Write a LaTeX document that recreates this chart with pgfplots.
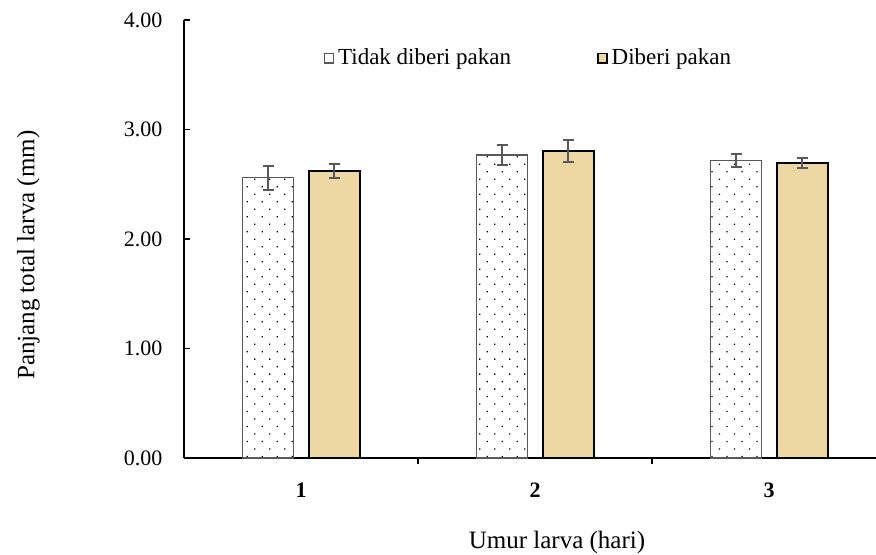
\documentclass[border=0pt]{standalone}
\usepackage{fontspec}
\setmainfont{Liberation Serif}
\usepackage{pgfplots}
\pgfplotsset{compat=1.18}
\usetikzlibrary{patterns.meta}
\definecolor{tanfill}{RGB}{237,216,163}
\definecolor{egray}{RGB}{89,89,89}
\begin{document}
\begin{tikzpicture}
\path[use as bounding box] (-92pt,-48pt) rectangle (346pt,229pt);
\begin{axis}[at={(0,0)}, anchor=south west, scale only axis,
  width=346pt, height=219pt,
  xmin=0.5, xmax=3.457, ymin=0, ymax=4,
  axis x line=bottom, axis y line=left,
  axis line style={-, line width=1pt, black},
  tick align=inside,
  ytick={0,1,2,3,4},
  yticklabels={0.00,1.00,2.00,3.00,4.00},
  yticklabel style={font=\fontsize{11}{13}\selectfont, xshift=-7.3pt},
  ytick style={line width=0.8pt, black},
  major tick length=3pt,
  xtick={1,2,3},
  xticklabels={1,2,3},
  xticklabel style={font=\bfseries\fontsize{11}{13}\selectfont, yshift=-5.8pt},
  major x tick style={draw=none},
  minor xtick={1.5,2.5},
  minor x tick style={line width=0.8pt, black},
  minor tick length=3pt,
  xlabel={Umur larva (hari)},
  ylabel={Panjang total larva (mm)},
  xlabel style={font=\fontsize{12.5}{15}\selectfont, at={(axis description cs:0.539,-0.194)}, anchor=center},
  ylabel style={font=\fontsize{12.5}{15}\selectfont, at={(axis description cs:-0.225,0.463)}, anchor=center},
  ybar, bar width=0.218,
  legend columns=2,
  legend style={draw=none, fill=none, at={(axis description cs:0.499,0.913)}, anchor=center,
    font=\fontsize{11.5}{14}\selectfont,
    /tikz/every even column/.append style={column sep=41pt}},
]
\addplot[bar shift=-0.141, draw=egray, line width=0.75pt,
  pattern={Dots[distance=5.3pt, angle=45, radius=0.45pt]}, pattern color=black,
  legend image code/.code={\draw[egray, fill=white, line width=0.8pt] (0pt,-2.3pt) rectangle (4.5pt,2.3pt);},
  error bars/.cd, y dir=both, y explicit,
  error bar style={egray, line width=1pt},
  error mark options={rotate=90, mark size=2.75pt, egray, line width=1pt}]
  coordinates {(1,2.56) +- (0,0.108) (2,2.767) +- (0,0.095) (3,2.716) +- (0,0.061)};
\addlegendentry{Tidak diberi pakan}
\addplot[bar shift=0.141, draw=black, line width=1pt, fill=tanfill,
  legend image code/.code={\draw[black, fill=tanfill, line width=0.8pt] (0pt,-2.3pt) rectangle (4.5pt,2.3pt);},
  error bars/.cd, y dir=both, y explicit,
  error bar style={egray, line width=1pt},
  error mark options={rotate=90, mark size=2.75pt, egray, line width=1pt}]
  coordinates {(1,2.62) +- (0,0.065) (2,2.806) +- (0,0.10) (3,2.697) +- (0,0.044)};
\addlegendentry{Diberi pakan}
\end{axis}
\end{tikzpicture}
\end{document}
